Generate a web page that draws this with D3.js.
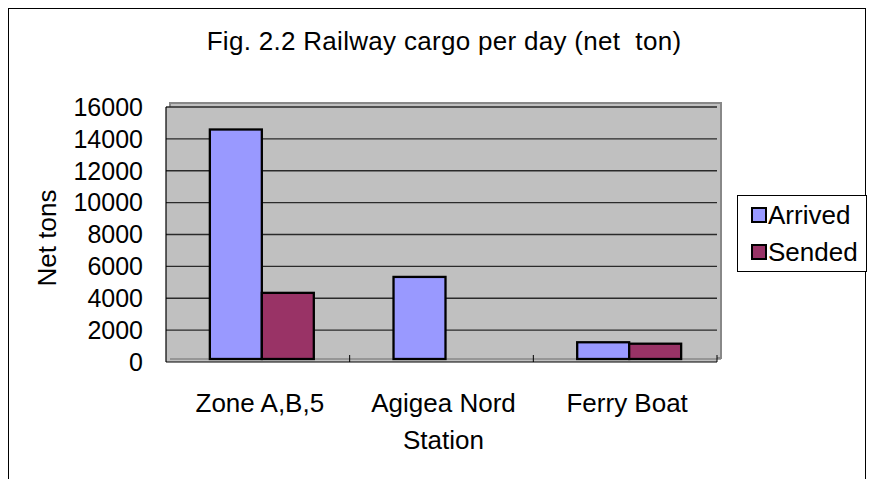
<!DOCTYPE html>
<html>
<head>
<meta charset="utf-8">
<script src="https://cdn.jsdelivr.net/npm/d3@7"></script>
<style>
  html, body { margin: 0; padding: 0; background: #fff; }
  svg { display: block; font-family: "Liberation Sans", Arial, sans-serif; }
</style>
</head>
<body>
<svg id="chart" width="869" height="479"></svg>
<script>
// Railway cargo per day, net tons
const stations = ["Zone A,B,5", "Agigea Nord Station", "Ferry Boat"];
const stationLines = [["Zone A,B,5"], ["Agigea Nord", "Station"], ["Ferry Boat"]];
const seriesNames = ["Arrived", "Sended"];
const arrived = [14400, 5150, 1050];
const sended = [4150, 0, 960];
const yTicks = [0, 2000, 4000, 6000, 8000, 10000, 12000, 14000, 16000];
const colors = ["#9999FF", "#993366"];

const svg = d3.select("#chart");

// outer chart frame
svg.append("rect")
  .attr("x", 8.5).attr("y", 8.5).attr("width", 857).attr("height", 490)
  .attr("fill", "#fff").attr("stroke", "#000").attr("stroke-width", 1);

const plot = { left: 166, right: 717, top: 107, bottom: 362 };
const depth = { dx: 4, dy: 3 };

const x = d3.scaleBand().domain(stations)
  .range([plot.left, plot.right])
  .paddingInner(0.434).paddingOuter(0.217);
const xs = d3.scaleBand().domain(seriesNames).range([0, x.bandwidth()]);
const y = d3.scaleLinear().domain([0, 16000]).range([plot.bottom, plot.top]);

// back wall
svg.append("rect")
  .attr("x", plot.left + depth.dx).attr("y", plot.top - depth.dy - 1)
  .attr("width", plot.right - plot.left).attr("height", plot.bottom - plot.top)
  .attr("fill", "#C0C0C0").attr("stroke", "#888").attr("stroke-width", 2);
svg.append("rect")
  .attr("x", plot.left).attr("y", plot.top)
  .attr("width", plot.right - plot.left).attr("height", plot.bottom - plot.top)
  .attr("fill", "#C0C0C0");

// gridlines
svg.append("g").selectAll("line").data(yTicks.filter(d => d > 0)).join("line")
  .attr("x1", plot.left).attr("x2", plot.right)
  .attr("y1", d => y(d)).attr("y2", d => y(d))
  .attr("stroke", "#2a2a2a").attr("stroke-width", 1.4);

// floor edge
svg.append("line")
  .attr("x1", plot.left + depth.dx).attr("x2", plot.right + depth.dx)
  .attr("y1", plot.bottom - depth.dy).attr("y2", plot.bottom - depth.dy)
  .attr("stroke", "#888").attr("stroke-width", 1.5);

// bars
const rows = stations.map((s, i) => ({ station: s, values: [arrived[i], sended[i]] }));
const groups = svg.append("g").selectAll("g").data(rows).join("g")
  .attr("transform", d => `translate(${x(d.station) + depth.dx},${-depth.dy})`);
groups.selectAll("rect")
  .data(d => d.values.map((v, j) => ({ name: seriesNames[j], v, j })).filter(e => e.v > 0))
  .join("rect")
  .attr("x", d => xs(d.name))
  .attr("y", d => y(d.v))
  .attr("width", xs.bandwidth())
  .attr("height", d => y(0) - y(d.v))
  .attr("fill", d => colors[d.j])
  .attr("stroke", "#000").attr("stroke-width", 2.3);

// axes lines
svg.append("line")
  .attr("x1", plot.left).attr("x2", plot.left)
  .attr("y1", plot.top).attr("y2", plot.bottom)
  .attr("stroke", "#000").attr("stroke-width", 1.2);
svg.append("line")
  .attr("x1", plot.left).attr("x2", plot.right)
  .attr("y1", plot.bottom).attr("y2", plot.bottom)
  .attr("stroke", "#000").attr("stroke-width", 1.2);

// category tick marks
const step = x.step();
svg.append("g").selectAll("line").data(d3.range(1, stations.length + 1)).join("line")
  .attr("x1", i => plot.left + i * step).attr("x2", i => plot.left + i * step)
  .attr("y1", plot.bottom - 7).attr("y2", plot.bottom)
  .attr("stroke", "#000").attr("stroke-width", 1);

// y tick labels
svg.append("g").selectAll("text").data(yTicks).join("text")
  .attr("x", 143).attr("y", d => y(d))
  .attr("dy", "0.35em")
  .attr("text-anchor", "end")
  .attr("font-size", 25)
  .text(d => d);

// category labels
const cat = svg.append("g").selectAll("text").data(stations).join("text")
  .attr("text-anchor", "middle")
  .attr("font-size", 26)
  .attr("transform", d => `translate(${x(d) + x.bandwidth() / 2 + 2},412)`);
cat.selectAll("tspan").data((d, i) => stationLines[i]).join("tspan")
  .attr("x", 0).attr("dy", (d, i) => i === 0 ? 0 : 37)
  .text(d => d);

// axis title
svg.append("text")
  .attr("transform", "translate(56,238) rotate(-90)")
  .attr("text-anchor", "middle")
  .attr("font-size", 26)
  .text("Net tons");

// chart title
svg.append("text")
  .attr("x", 444).attr("y", 50)
  .attr("text-anchor", "middle")
  .attr("font-size", 26)
  .attr("letter-spacing", 0.3)
  .style("white-space", "pre")
  .text("Fig. 2.2 Railway cargo per day (net  ton)");

// legend
const legend = svg.append("g");
legend.append("rect")
  .attr("x", 737.5).attr("y", 195.5).attr("width", 129).attr("height", 76)
  .attr("fill", "#fff").attr("stroke", "#000").attr("stroke-width", 1);
const items = legend.selectAll("g").data(seriesNames).join("g")
  .attr("transform", (d, i) => `translate(752,${208 + i * 37})`);
items.append("rect")
  .attr("width", 14).attr("height", 14)
  .attr("fill", (d, i) => colors[i])
  .attr("stroke", "#000").attr("stroke-width", 2);
items.append("text")
  .attr("x", 16).attr("y", 7).attr("dy", "0.35em")
  .attr("font-size", 26)
  .text(d => d);
</script>
</body>
</html>
